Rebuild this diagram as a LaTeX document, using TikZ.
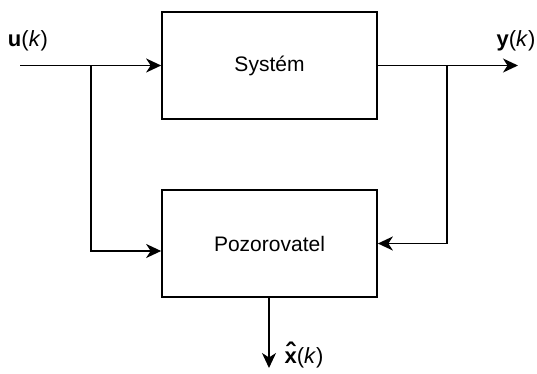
\documentclass[tikz,border=0pt]{standalone}
\usepackage{fontspec}
\setmainfont{Liberation Sans}
\usetikzlibrary{arrows.meta}
% bold x with a bold circumflex set above it
\newcommand{\xhatbold}{\textbf{\ooalign{x\cr\hidewidth\raisebox{1.5pt}{\scalebox{1.25}{\char"02C6}}\hidewidth\cr}}}
\begin{document}
\begin{tikzpicture}[x=1pt,y=-1pt,
  blk/.style={draw, line width=1.7pt, minimum width=215pt, minimum height=107pt,
    inner sep=0pt, font=\fontsize{21}{25}\selectfont},
  wire/.style={line width=1.7pt},
  arr/.style={wire, -{Stealth[length=15pt, width=14pt, inset=4.5pt]}},
  lbl/.style={inner sep=0pt, font=\fontsize{22}{26}\selectfont}]
\useasboundingbox (0,0) rectangle (537,374);

% blocks
\node[blk] (sys) at (269.5,65.5) {Systém};
\node[blk] (poz) at (269.5,243.5) {Pozorovatel};

% free ends and branch points
\coordinate (uin) at (20,65.5);
\coordinate (yout) at (518,65.5);
\coordinate (bu) at (91,65.5);
\coordinate (by) at (447,65.5);
\coordinate (xout) at (269,368);

% signal flow
\draw[arr] (uin) -- (sys.west);
\draw[arr] (sys.east) -- (yout);
\draw[arr] (bu) |- ([yshift=-7.5pt]poz.west);
\draw[arr] (by) |- (poz.east);
\draw[arr] (poz.south -| xout) -- (xout);

% signal labels
\node[lbl] (ul) at (28,41) {\textbf{u}(\textit{k})};
\node[lbl] (yl) at (516,41) {\textbf{y}(\textit{k})};
\node[lbl] (xl) at (304,358) {\xhatbold(\textit{k})};
\end{tikzpicture}
\end{document}
